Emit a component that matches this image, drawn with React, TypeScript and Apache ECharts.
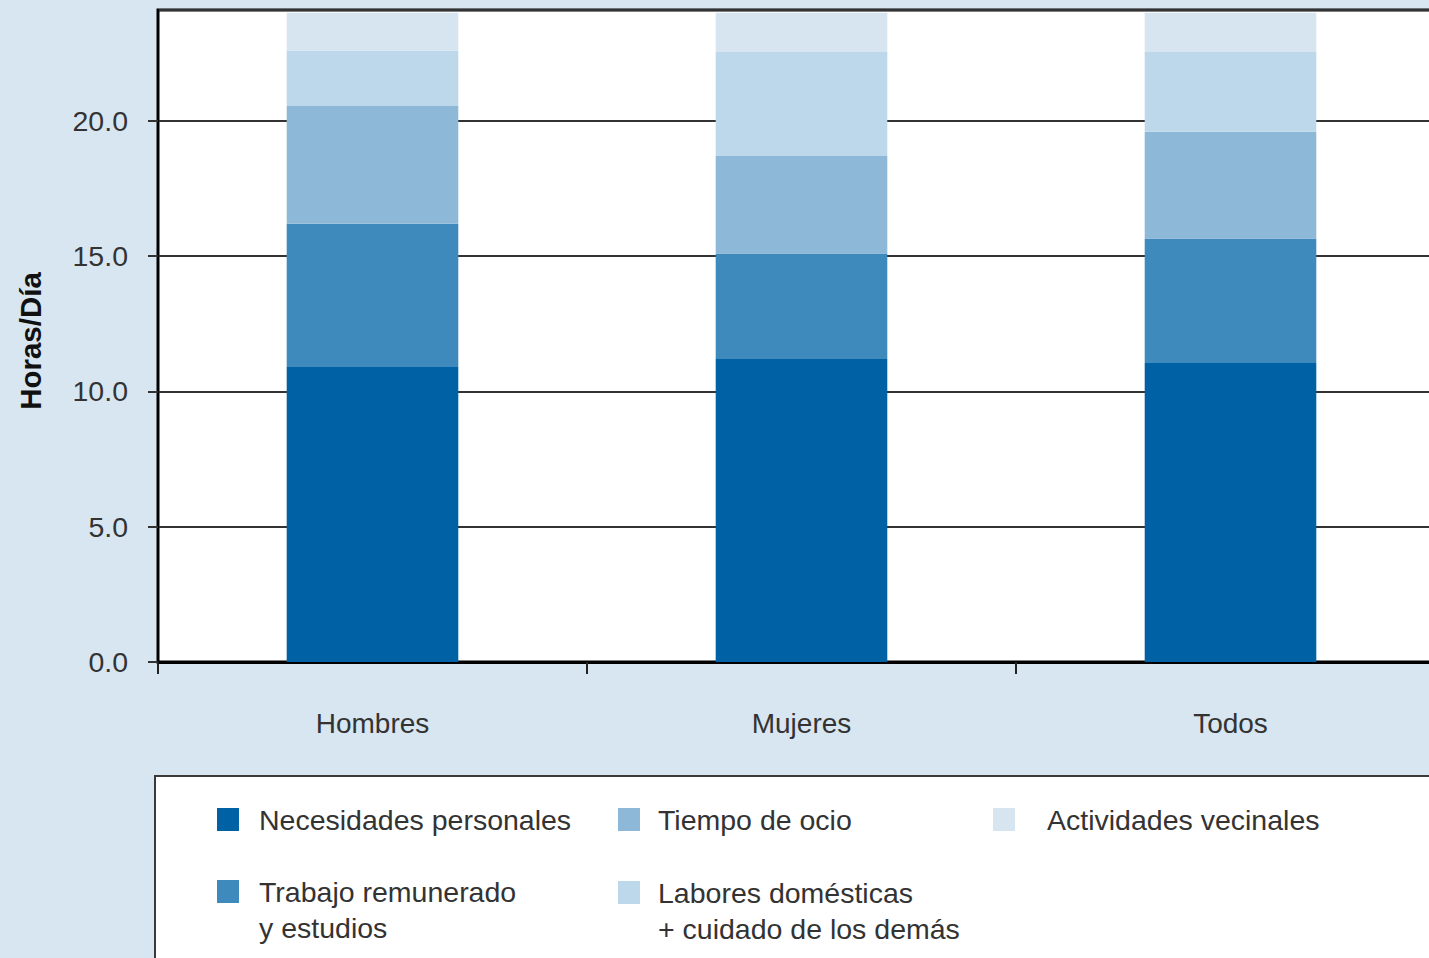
import React, { useEffect, useRef } from "react";
import * as echarts from "echarts";

const categories = ["Hombres", "Mujeres", "Todos"];
const seriesNames = [
  "Necesidades personales",
  "Trabajo remunerado\ny estudios",
  "Tiempo de ocio",
  "Labores domésticas\n+ cuidado de los demás",
  "Actividades vecinales",
];
const necesidades = [10.9, 11.2, 11.05];
const trabajo = [5.3, 3.9, 4.6];
const ocio = [4.35, 3.6, 3.95];
const labores = [2.05, 3.85, 2.95];
const vecinales = [1.4, 1.45, 1.45];
const yTicks = [0, 5, 10, 15, 20];

const colors = ["#0062a5", "#3f8abd", "#8db8d8", "#bdd7eb", "#d7e5f1"];
const BG = "#d8e6f2";
const FONT = "'Liberation Sans', Arial, Helvetica, sans-serif";

const iconWithGap = (w: number) => `path://M0,0L22,0L22,23L0,23Z M${w},0L${w + 0.01},0L${w + 0.01},0.01Z`;

export default function App() {
  const ref = useRef<HTMLDivElement>(null);
  useEffect(() => {
    document.body.style.margin = "0";
    document.body.style.background = BG;
    const chart = echarts.init(ref.current!, null, { renderer: "svg" });
    const values = [necesidades, trabajo, ocio, labores, vecinales];
    const lh = 36;
    const txt = { fontSize: 28.5, color: "#333", fontFamily: FONT, lineHeight: lh };
    const legendBase = {
      orient: "horizontal",
      padding: 0,
      itemWidth: 37,
      itemHeight: 23,
      icon: iconWithGap(37),
      selectedMode: false,
      textStyle: txt,
    };
    const col2 = { itemWidth: 35, icon: iconWithGap(35) };
    const col3 = { itemWidth: 49, icon: iconWithGap(49) };
    const multi = { formatter: (n: string) => "\n" + n };
    const option: any = {
      animation: false,
      backgroundColor: BG,
      textStyle: { fontFamily: FONT },
      grid: {
        left: 158,
        top: 10,
        width: 1287,
        bottom: 958 - 662,
        show: true,
        backgroundColor: "#ffffff",
        borderColor: "#000",
        borderWidth: 3,
        containLabel: false,
        outerBoundsMode: "none",
      },
      graphic: [
        {
          type: "rect",
          z: 0,
          shape: { x: 155, y: 776, width: 1400, height: 300 },
          style: { fill: "#ffffff", stroke: "#3a3a3a", lineWidth: 2 },
        },
      ],
      legend: [
        { ...legendBase, data: [seriesNames[0]], left: 217, top: 801.5 },
        { ...legendBase, ...multi, data: [seriesNames[1]], left: 217, top: 837.5 },
        { ...legendBase, ...col2, data: [seriesNames[2]], left: 618, top: 801.5 },
        { ...legendBase, ...col2, ...multi, data: [seriesNames[3]], left: 618, top: 838.5 },
        { ...legendBase, ...col3, data: [seriesNames[4]], left: 993, top: 801.5 },
      ],
      xAxis: {
        type: "category",
        data: categories,
        axisLine: { show: true, lineStyle: { color: "#000", width: 3 } },
        axisTick: { show: true, length: 12, lineStyle: { color: "#222", width: 2 } },
        axisLabel: { fontSize: 28, color: "#333", margin: 47, fontFamily: FONT },
      },
      yAxis: {
        type: "value",
        min: 0,
        max: 24.1,
        interval: 5,
        name: "Horas/Día",
        nameLocation: "middle",
        nameGap: 113,
        nameTextStyle: {
          fontSize: 29.5,
          fontWeight: "bold",
          color: "#111",
          fontFamily: FONT,
          padding: [0, 10, 0, 0],
        },
        axisLine: { show: true, lineStyle: { color: "#000", width: 2 } },
        axisTick: { show: true, length: 10, lineStyle: { color: "#333", width: 2 } },
        axisLabel: {
          fontSize: 28.5,
          color: "#333",
          margin: 30,
          fontFamily: FONT,
          showMaxLabel: false,
          formatter: (v: number) => (yTicks.includes(v) ? v.toFixed(1) : ""),
        },
        splitLine: { show: true, lineStyle: { color: "#333", width: 2 } },
      },
      series: seriesNames.map((name, i) => ({
        name,
        type: "bar",
        stack: "total",
        barWidth: "40%",
        itemStyle: { color: colors[i] },
        emphasis: { disabled: true },
        data: values[i],
      })),
    };
    chart.setOption(option);
    return () => chart.dispose();
  }, []);
  return <div ref={ref} style={{ width: 1429, height: 958, background: BG }} />;
}
